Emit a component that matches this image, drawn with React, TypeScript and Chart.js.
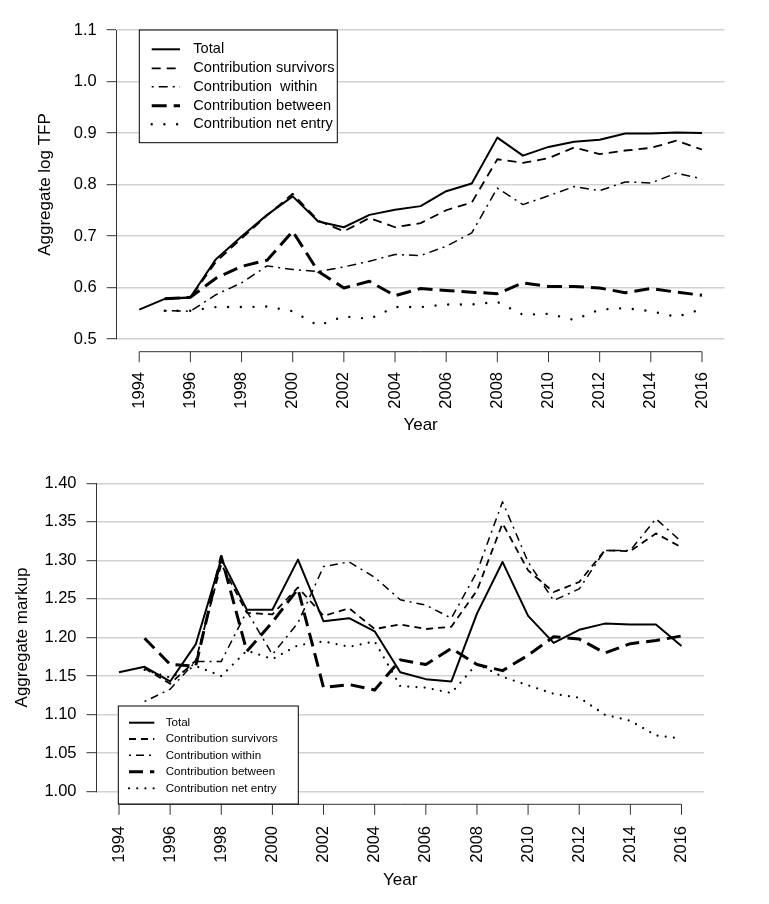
import React, { useEffect, useRef } from "react";
import { Chart, registerables } from "chart.js";

Chart.register(...registerables);

// ---------- data ----------
const YEARS = [1994, 1995, 1996, 1997, 1998, 1999, 2000, 2001, 2002, 2003, 2004, 2005, 2006, 2007, 2008, 2009, 2010, 2011, 2012, 2013, 2014, 2015, 2016];
const X_TICKS = [1994, 1996, 1998, 2000, 2002, 2004, 2006, 2008, 2010, 2012, 2014, 2016];

const TFP_TICKS = [0.5, 0.6, 0.7, 0.8, 0.9, 1.0, 1.1];
const MK_TICKS = [1.0, 1.05, 1.1, 1.15, 1.2, 1.25, 1.3, 1.35, 1.4];

const TFP_LABELS = ["Total", "Contribution survivors", "Contribution  within", "Contribution between", "Contribution net entry"];
const MK_LABELS = ["Total", "Contribution survivors", "Contribution within", "Contribution between", "Contribution net entry"];

const TFP_TOTAL = [0.557, 0.578, 0.581, 0.655, 0.699, 0.741, 0.777, 0.728, 0.717, 0.741, 0.751, 0.758, 0.787, 0.802, 0.891, 0.856, 0.873, 0.883, 0.887, 0.899, 0.899, 0.901, 0.900];
const TFP_SURVIVORS = [null, 0.578, 0.580, 0.650, 0.695, 0.740, 0.782, 0.730, 0.709, 0.735, 0.717, 0.725, 0.750, 0.765, 0.849, 0.842, 0.851, 0.872, 0.859, 0.866, 0.871, 0.885, 0.868];
const TFP_WITHIN = [null, 0.555, 0.554, 0.586, 0.609, 0.642, 0.635, 0.631, 0.640, 0.651, 0.664, 0.662, 0.680, 0.706, 0.793, 0.761, 0.778, 0.796, 0.788, 0.805, 0.803, 0.822, 0.811];
const TFP_BETWEEN = [null, 0.578, 0.581, 0.618, 0.641, 0.653, 0.709, 0.631, 0.599, 0.612, 0.584, 0.598, 0.594, 0.591, 0.588, 0.609, 0.602, 0.602, 0.599, 0.590, 0.598, 0.591, 0.585];
const TFP_NET_ENTRY = [null, 0.555, 0.555, 0.562, 0.562, 0.563, 0.554, 0.526, 0.544, 0.539, 0.562, 0.562, 0.567, 0.567, 0.572, 0.547, 0.549, 0.537, 0.557, 0.560, 0.554, 0.543, 0.558];

const MK_TOTAL = [1.155, 1.162, 1.143, 1.191, 1.302, 1.236, 1.236, 1.301, 1.221, 1.225, 1.208, 1.155, 1.146, 1.143, 1.231, 1.298, 1.228, 1.193, 1.210, 1.218, 1.217, 1.217, 1.189];
const MK_SURVIVORS = [null, 1.160, 1.140, 1.170, 1.295, 1.232, 1.230, 1.265, 1.228, 1.238, 1.211, 1.217, 1.211, 1.214, 1.261, 1.348, 1.287, 1.259, 1.272, 1.313, 1.312, 1.335, 1.317];
const MK_WITHIN = [null, 1.117, 1.133, 1.169, 1.169, 1.234, 1.178, 1.219, 1.292, 1.298, 1.278, 1.249, 1.242, 1.225, 1.285, 1.376, 1.298, 1.248, 1.263, 1.313, 1.313, 1.354, 1.324];
const MK_BETWEEN = [null, 1.199, 1.165, 1.163, 1.305, 1.182, 1.220, 1.263, 1.135, 1.139, 1.132, 1.171, 1.165, 1.186, 1.165, 1.157, 1.177, 1.201, 1.198, 1.180, 1.192, 1.196, 1.202];
const MK_NET_ENTRY = [null, 1.158, 1.148, 1.163, 1.150, 1.183, 1.172, 1.190, 1.195, 1.188, 1.195, 1.137, 1.135, 1.128, 1.166, 1.149, 1.138, 1.127, 1.122, 1.100, 1.092, 1.073, 1.069];

// ---------- layout / style ----------
const W = 769;
const H = 452;
const FONT = "'Liberation Sans', Arial, Helvetica, sans-serif";

type Style = { width: number; dash: number[]; cap: "butt" | "round" };

type Panel = {
  series: (number | null)[][];
  labels: string[];
  styles: Style[];
  yMin: number;
  yMax: number;
  yTicks: number[];
  yDecimals: number;
  yTitle: string;
  area: { left: number; right: number; top: number; bottom: number };
  yTitleX: number;
  xTitleY: number;
  xAxisGap: number;
  xLabelPad: number;
  legend: { x: number; y: number; w: number; h: number; rows: number[]; s0: number; s1: number; tx: number; size: number };
};

const TOP: Panel = {
  series: [TFP_TOTAL, TFP_SURVIVORS, TFP_WITHIN, TFP_BETWEEN, TFP_NET_ENTRY],
  labels: TFP_LABELS,
  styles: [
    { width: 2, dash: [], cap: "butt" },
    { width: 1.8, dash: [9, 6], cap: "butt" },
    { width: 1.5, dash: [2, 5, 9, 5], cap: "butt" },
    { width: 3, dash: [15, 7], cap: "butt" },
    { width: 2.4, dash: [0.01, 12.7], cap: "round" },
  ],
  yMin: 0.5,
  yMax: 1.1,
  yTicks: TFP_TICKS,
  yDecimals: 1,
  yTitle: "Aggregate log TFP",
  area: { left: 116.7, right: 724.5, top: 30, bottom: 339 },
  yTitleX: 45,
  xTitleY: 425,
  xAxisGap: 12.7,
  xLabelPad: 33,
  legend: { x: 139.3, y: 30, w: 198, h: 112.7, rows: [49.3, 68.3, 86.7, 105.7, 124.3], s0: 151.7, s1: 180, tx: 193.3, size: 14.6 },
};

const BOTTOM: Panel = {
  series: [MK_TOTAL, MK_SURVIVORS, MK_WITHIN, MK_BETWEEN, MK_NET_ENTRY],
  labels: MK_LABELS,
  styles: [
    { width: 2, dash: [], cap: "butt" },
    { width: 1.8, dash: [7, 5], cap: "butt" },
    { width: 1.5, dash: [2, 5, 8, 5], cap: "butt" },
    { width: 3, dash: [14, 7], cap: "butt" },
    { width: 2.2, dash: [0.01, 8.2], cap: "round" },
  ],
  yMin: 1.0,
  yMax: 1.4,
  yTicks: MK_TICKS,
  yDecimals: 2,
  yTitle: "Aggregate markup",
  area: { left: 96.5, right: 704, top: 31.3, bottom: 339.7 },
  yTitleX: 22,
  xTitleY: 428,
  xAxisGap: 12.6,
  xLabelPad: 34.3,
  legend: { x: 118.3, y: 254, w: 180, h: 98, rows: [270.7, 287, 303.3, 319.7, 336.3], s0: 129, s1: 154.3, tx: 165.7, size: 11.6 },
};

const TITLE_SIZE = 17;
const TICK_SIZE = 16.5;

function buildConfig(p: Panel): any {
  const datasets = p.series.map((s, i) => ({
    label: p.labels[i],
    data: YEARS.map((x, j) => ({ x, y: s[j] })),
    borderColor: "#000",
    backgroundColor: "#000",
    borderWidth: p.styles[i].width,
    borderDash: p.styles[i].dash,
    borderCapStyle: p.styles[i].cap,
    borderJoinStyle: "round",
    pointRadius: 0,
    pointHoverRadius: 0,
    fill: false,
    tension: 0,
    spanGaps: false,
  }));

  const decor = {
    id: "decor",
    afterDraw(chart: any) {
      const ctx = chart.ctx as CanvasRenderingContext2D;
      const xs = chart.scales.x;
      const ca = chart.chartArea;
      // x axis line (R style, offset below the plot)
      const y0 = ca.bottom + p.xAxisGap;
      ctx.save();
      ctx.strokeStyle = "#333";
      ctx.lineWidth = 1;
      ctx.setLineDash([]);
      ctx.beginPath();
      ctx.moveTo(xs.getPixelForValue(X_TICKS[0]), y0);
      ctx.lineTo(xs.getPixelForValue(X_TICKS[X_TICKS.length - 1]), y0);
      X_TICKS.forEach((t) => {
        const px = xs.getPixelForValue(t);
        ctx.moveTo(px, y0);
        ctx.lineTo(px, y0 + 10.5);
      });
      ctx.stroke();

      // legend box
      const L = p.legend;
      ctx.fillStyle = "#fff";
      ctx.fillRect(L.x, L.y, L.w, L.h);
      ctx.strokeStyle = "#000";
      ctx.lineWidth = 1;
      ctx.strokeRect(L.x, L.y, L.w, L.h);
      chart.data.datasets.forEach((ds: any, i: number) => {
        const ry = L.rows[i];
        ctx.beginPath();
        ctx.setLineDash(ds.borderDash || []);
        ctx.lineCap = ds.borderCapStyle;
        ctx.lineWidth = ds.borderWidth;
        ctx.strokeStyle = ds.borderColor;
        ctx.moveTo(L.s0, ry);
        ctx.lineTo(L.s1, ry);
        ctx.stroke();
        ctx.setLineDash([]);
        ctx.fillStyle = "#000";
        ctx.font = `${L.size}px ${FONT}`;
        ctx.textAlign = "left";
        ctx.textBaseline = "middle";
        ctx.fillText(ds.label, L.tx, ry);
      });
      ctx.restore();
    },
  };

  return {
    type: "line",
    data: { datasets },
    plugins: [decor],
    options: {
      animation: false,
      responsive: false,
      maintainAspectRatio: false,
      events: [],
      layout: { padding: { top: p.area.top, right: W - p.area.right, left: 0, bottom: 0 } },
      plugins: { legend: { display: false }, tooltip: { enabled: false }, title: { display: false } },
      scales: {
        x: {
          type: "linear",
          min: 1994 - 0.88,
          max: 2016 + 0.88,
          afterBuildTicks: (s: any) => {
            s.ticks = X_TICKS.map((v) => ({ value: v }));
          },
          afterFit: (s: any) => {
            s.height = H - p.area.bottom;
          },
          grid: { display: false, drawTicks: false, drawOnChartArea: false },
          border: { display: false },
          ticks: {
            autoSkip: false,
            maxRotation: 90,
            minRotation: 90,
            padding: p.xLabelPad,
            color: "#000",
            font: { size: TICK_SIZE, family: FONT },
            callback: (v: any) => String(v),
          },
          title: {
            display: true,
            text: "Year",
            color: "#000",
            font: { size: TITLE_SIZE, family: FONT },
            padding: { top: 0, bottom: H - p.xTitleY - TITLE_SIZE * 0.6 },
          },
        },
        y: {
          type: "linear",
          min: p.yMin,
          max: p.yMax,
          afterBuildTicks: (s: any) => {
            s.ticks = p.yTicks.map((v) => ({ value: v }));
          },
          afterFit: (s: any) => {
            s.width = p.area.left;
          },
          grid: {
            color: "#d2d2d2",
            lineWidth: 1.4,
            tickColor: "#333",
            tickLength: 10,
            tickWidth: 1,
            drawTicks: true,
          },
          border: { display: true, color: "#333", width: 1 },
          ticks: {
            padding: 10,
            color: "#000",
            font: { size: TICK_SIZE, family: FONT },
            callback: (v: any) => Number(v).toFixed(p.yDecimals),
          },
          title: {
            display: true,
            text: p.yTitle,
            color: "#000",
            font: { size: TITLE_SIZE, family: FONT },
            padding: { top: p.yTitleX - TITLE_SIZE * 0.6, bottom: 0 },
          },
        },
      },
    },
  };
}

function ChartPanel({ panel, top }: { panel: Panel; top: number }) {
  const ref = useRef<HTMLCanvasElement | null>(null);
  useEffect(() => {
    if (!ref.current) return;
    const chart = new Chart(ref.current, buildConfig(panel));
    return () => chart.destroy();
  }, [panel]);
  return (
    <canvas
      ref={ref}
      width={W}
      height={H}
      style={{ position: "absolute", left: 0, top, width: W, height: H, display: "block" }}
    />
  );
}

export default function App() {
  return (
    <div style={{ position: "absolute", left: 0, top: 0, width: W, height: 2 * H, background: "#fff" }}>
      <ChartPanel panel={TOP} top={0} />
      <ChartPanel panel={BOTTOM} top={H} />
    </div>
  );
}
